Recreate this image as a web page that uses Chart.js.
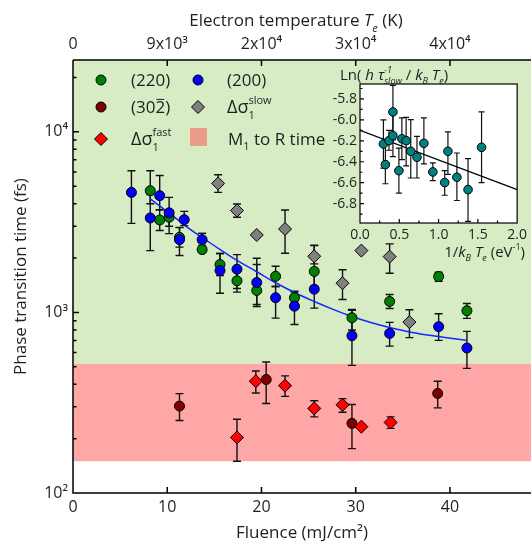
<!DOCTYPE html>
<html>
<head>
<meta charset="utf-8">
<script src="https://cdn.jsdelivr.net/npm/chart.js@4.4.0/dist/chart.umd.min.js"></script>
<style>
  body { margin: 0; background: #fff; }
  #wrap { position: relative; width: 531px; height: 544px; overflow: hidden; }
  #main { position: absolute; left: 0; top: 0; }
  #inset { position: absolute; left: 300px; top: 62px; }
</style>
</head>
<body>
<div id="wrap">
  <canvas id="main" width="531" height="544"></canvas>
  <canvas id="inset" width="231" height="205"></canvas>
</div>
<script>
// ---- data ----
const fluence200 = [6.2, 8.2, 9.2, 10.2, 11.8, 11.3, 13.7, 15.6, 17.4, 19.5, 21.5, 23.5, 25.6, 29.6, 33.6, 38.8, 41.8];
const time200 = [4620, 3335, 4430, 3560, 3265, 2530, 2530, 1706, 1734, 1465, 1206, 1083, 1345, 743, 765, 834, 635];
const lo200 = [3114, 2200, 3700, 3000, 3025, 2065, 2350, 1278, 1357, 1107, 930, 858, 1056, 509, 651, 700, 490];
const hi200 = [6087, 4500, 5736, 4335, 3628, 2958, 2742, 2119, 2090, 1843, 1392, 1295, 1750, 1026, 881, 984, 785];

const fluence220 = [8.2, 9.2, 10.2, 11.3, 13.7, 15.6, 17.4, 19.5, 21.5, 23.5, 25.6, 29.6, 33.6, 38.8, 41.8];
const time220 = [4720, 3250, 3365, 2605, 2228, 1843, 1497, 1323, 1586, 1206, 1686, 935, 1150, 1581, 1022];
const lo220 = [4000, 2840, 2730, 2300, 2153, 1600, 1295, 1079, 1392, 1140, 1400, 800, 1052, 1489, 927];
const hi220 = [6090, 3704, 3700, 2950, 2742, 2119, 1700, 1995, 1802, 1311, 2354, 1039, 1257, 1670, 1121];

const fluence302 = [11.3, 20.5, 29.6, 38.7];
const time302 = [303, 425, 243, 356];
const lo302 = [252, 313, 176, 296];
const hi302 = [355, 531, 309, 416];

const fluenceSlow = [15.4, 17.4, 19.5, 22.5, 25.6, 28.6, 30.6, 33.6, 35.7];
const timeSlow = [5180, 3665, 2685, 2898, 2046, 1452, 2200, 2037, 884];
const loSlow = [4623, 3364, 2685, 2127, 1858, 1180, 2200, 1648, 725];
const hiSlow = [5786, 3987, 2685, 3692, 2343, 1722, 2200, 2397, 1035];

const fluenceFast = [17.4, 19.4, 22.5, 25.6, 28.6, 30.6, 33.7];
const timeFast = [203, 416, 393, 294, 308, 233, 246];
const loFast = [150, 358, 343, 264, 280, 233, 228];
const hiFast = [256, 474, 445, 324, 333, 233, 264];

// blue fit curve
const fitFluence = [8.2, 10.2, 12.0, 13.7, 15.5, 17.4, 19.5, 21.5, 23.5, 25.6, 27.6, 29.6, 31.6, 33.6, 36.0, 38.8, 41.8];
const fitTime = [4250, 3550, 3000, 2600, 2250, 1940, 1680, 1460, 1290, 1150, 1040, 950, 880, 825, 775, 735, 700];

// M1 to R time band (pink) and the green region above it
const bandLow = 150;
const bandHigh = 520;

const xTicks = [0, 10, 20, 30, 40];
const topTickLabels = ['0', '9x10³', '2x10⁴', '3x10⁴', '4x10⁴'];
const yTicks = [100, 1000, 10000];
const yTickLabels = ['10²', '10³', '10⁴'];

// inset
const invKT = [0.298, 0.323, 0.369, 0.419, 0.419, 0.495, 0.533, 0.587, 0.646, 0.725, 0.813, 0.927, 1.078, 1.119, 1.233, 1.375, 1.547];
const lnRate = [-6.23, -6.427, -6.198, -5.924, -6.15, -6.485, -6.18, -6.198, -6.30, -6.357, -6.224, -6.497, -6.599, -6.30, -6.548, -6.666, -6.262];
const lnLo = [-6.46, -6.61, -6.29, -6.19, -6.35, -6.70, -6.38, -6.44, -6.555, -6.555, -6.42, -6.58, -6.72, -6.52, -6.77, -6.97, -6.60];
const lnHi = [-6.00, -6.19, -6.10, -5.67, -5.93, -6.27, -5.98, -5.975, -5.997, -6.157, -5.98, -6.41, -6.485, -6.115, -6.316, -6.37, -5.924];
const invKTFit = [0, 2.0];
const lnFit = [-6.10, -6.666];
const insetXTicks = [0, 0.5, 1.0, 1.5, 2.0];
const insetYTicks = [-6.8, -6.6, -6.4, -6.2, -6.0, -5.8];

const FAM = "'Open Sans', 'DejaVu Sans', sans-serif";
const TXT = '#1f1f1f';

function pts(xs, ys) { return xs.map((x, i) => ({ x: x, y: ys[i] })); }

// draw a line of mixed text: normal / italic / sub / sup pieces
function drawRich(ctx, x, y, segs, align) {
  const fontOf = s => (s.it ? 'italic ' : '') + s.sz + 'px ' + FAM;
  let total = 0, hold = 0;
  segs.forEach(s => {
    ctx.font = fontOf(s);
    const w = ctx.measureText(s.t).width;
    if (s.stack) { hold = Math.max(hold, w); } else { total += Math.max(w, hold); hold = 0; }
  });
  let cx = x;
  if (align === 'center') cx = x - total / 2;
  if (align === 'right') cx = x - total;
  ctx.save();
  ctx.fillStyle = TXT;
  ctx.textAlign = 'left';
  ctx.textBaseline = 'alphabetic';
  hold = 0;
  segs.forEach(s => {
    ctx.font = fontOf(s);
    const w = ctx.measureText(s.t).width;
    ctx.fillText(s.t, cx, y + (s.dy || 0));
    if (s.over) {
      ctx.strokeStyle = TXT; ctx.lineWidth = 1;
      ctx.beginPath();
      ctx.moveTo(cx + 1, y - s.sz * 0.8); ctx.lineTo(cx + w - 1, y - s.sz * 0.8);
      ctx.stroke();
    }
    if (s.stack) { hold = Math.max(hold, w); } else { cx += Math.max(w, hold); hold = 0; }
  });
  ctx.restore();
}

function marker(ctx, kind, color, x, y) {
  ctx.save();
  ctx.fillStyle = color; ctx.strokeStyle = '#000'; ctx.lineWidth = 1;
  ctx.beginPath();
  if (kind === 'circle') {
    ctx.arc(x, y, 5, 0, Math.PI * 2);
  } else {
    const r = 6.5;
    ctx.moveTo(x, y - r); ctx.lineTo(x + r, y); ctx.lineTo(x, y + r); ctx.lineTo(x - r, y); ctx.closePath();
  }
  ctx.fill(); ctx.stroke();
  ctx.restore();
}

function drawErrorBars(chart, cap, lw) {
  const ctx = chart.ctx;
  const xs = chart.scales.x, ys = chart.scales.y;
  ctx.save();
  ctx.strokeStyle = '#111';
  ctx.lineWidth = lw;
  chart.data.datasets.forEach(ds => {
    if (!ds.errLo) return;
    ds.data.forEach((p, i) => {
      if (ds.errLo[i] === ds.errHi[i]) return;
      const px = xs.getPixelForValue(p.x);
      const y1 = ys.getPixelForValue(ds.errHi[i]);
      const y2 = ys.getPixelForValue(ds.errLo[i]);
      ctx.beginPath();
      ctx.moveTo(px, y1); ctx.lineTo(px, y2);
      ctx.moveTo(px - cap, y1); ctx.lineTo(px + cap, y1);
      ctx.moveTo(px - cap, y2); ctx.lineTo(px + cap, y2);
      ctx.stroke();
    });
  });
  ctx.restore();
}

const mainDecor = {
  id: 'mainDecor',
  beforeDatasetsDraw(chart) {
    const ctx = chart.ctx, a = chart.chartArea;
    const ys = chart.scales.y;
    const yHi = ys.getPixelForValue(bandHigh);
    const yLo = ys.getPixelForValue(bandLow);
    ctx.save();
    ctx.fillStyle = 'rgb(215,236,196)';
    ctx.fillRect(a.left, a.top, a.right - a.left, yHi - a.top);
    ctx.fillStyle = 'rgb(255,166,166)';
    ctx.fillRect(a.left, yHi, a.right - a.left, yLo - yHi);
    ctx.restore();
    drawErrorBars(chart, 4, 1.4);
  },
  afterDraw(chart) {
    const ctx = chart.ctx, a = chart.chartArea;
    const xs = chart.scales.x, ys = chart.scales.y;
    ctx.save();
    ctx.strokeStyle = '#000';
    ctx.lineWidth = 1.5;
    ctx.beginPath();
    ctx.moveTo(a.left, a.top); ctx.lineTo(a.left, a.bottom); ctx.lineTo(a.right + 2, a.bottom);
    ctx.moveTo(a.left, a.top); ctx.lineTo(a.right + 2, a.top);
    // x ticks, inward top and bottom
    xTicks.slice(1).forEach(v => {
      const px = xs.getPixelForValue(v);
      ctx.moveTo(px, a.bottom); ctx.lineTo(px, a.bottom - 6);
      ctx.moveTo(px, a.top); ctx.lineTo(px, a.top + 6);
    });
    // y ticks, major and minor
    for (let d = 100; d <= 10000; d *= 10) {
      for (let m = 1; m <= 9; m++) {
        const v = d * m;
        if (v > ys.max) break;
        const py = ys.getPixelForValue(v);
        ctx.moveTo(a.left, py); ctx.lineTo(a.left + (m === 1 ? 6 : 3.5), py);
      }
    }
    ctx.stroke();
    ctx.restore();

    // top axis title
    drawRich(ctx, (a.left + a.right) / 2 - 6, 26, [
      { t: 'Electron temperature ', sz: 17 },
      { t: 'T', sz: 17, it: true },
      { t: 'e', sz: 11, it: true, dy: 6 },
      { t: ' (K)', sz: 17 }
    ], 'center');

    // legend
    marker(ctx, 'circle', 'rgb(0,128,0)', 101, 80);
    drawRich(ctx, 131, 86, [{ t: '(220)', sz: 17 }], 'left');
    marker(ctx, 'circle', 'rgb(0,0,255)', 198, 80);
    drawRich(ctx, 227, 86, [{ t: '(200)', sz: 17 }], 'left');
    marker(ctx, 'circle', 'rgb(128,0,0)', 101, 107);
    drawRich(ctx, 131, 113, [{ t: '(30', sz: 17 }, { t: '2', sz: 17, over: true }, { t: ')', sz: 17 }], 'left');
    marker(ctx, 'diamond', 'rgb(128,128,128)', 198, 107);
    drawRich(ctx, 227, 113, [
      { t: 'Δσ', sz: 18 }, { t: 'slow', sz: 11, dy: -9, stack: true }, { t: '1', sz: 11, dy: 6 }
    ], 'left');
    marker(ctx, 'diamond', 'rgb(255,0,0)', 101, 139);
    drawRich(ctx, 131, 145, [
      { t: 'Δσ', sz: 18 }, { t: 'fast', sz: 11, dy: -9, stack: true }, { t: '1', sz: 11, dy: 6 }
    ], 'left');
    ctx.save();
    ctx.fillStyle = 'rgb(234,156,134)';
    ctx.fillRect(190, 128, 17, 18);
    ctx.restore();
    drawRich(ctx, 228, 145, [
      { t: 'M', sz: 17 }, { t: '1', sz: 11, dy: 5 }, { t: ' to R time', sz: 17 }
    ], 'left');
  }
};

const tickFont = { family: FAM, size: 16 };

new Chart(document.getElementById('main'), {
  type: 'scatter',
  data: {
    datasets: [
      {
        label: 'fit', type: 'line', data: pts(fitFluence, fitTime),
        borderColor: 'rgb(20,40,255)', borderWidth: 1.5, pointRadius: 0,
        tension: 0.4, fill: false, order: 10
      },
      {
        label: '(220)', data: pts(fluence220, time220), errLo: lo220, errHi: hi220,
        backgroundColor: 'rgb(0,128,0)', borderColor: '#000', borderWidth: 1,
        pointRadius: 5, order: 5
      },
      {
        label: '(200)', data: pts(fluence200, time200), errLo: lo200, errHi: hi200,
        backgroundColor: 'rgb(0,0,255)', borderColor: '#000', borderWidth: 1,
        pointRadius: 5, order: 4
      },
      {
        label: 'slow', data: pts(fluenceSlow, timeSlow), errLo: loSlow, errHi: hiSlow,
        backgroundColor: 'rgb(128,128,128)', borderColor: '#000', borderWidth: 1,
        pointStyle: 'rectRot', pointRadius: 6.5, order: 3
      },
      {
        label: '(30-2)', data: pts(fluence302, time302), errLo: lo302, errHi: hi302,
        backgroundColor: 'rgb(128,0,0)', borderColor: '#000', borderWidth: 1,
        pointRadius: 5, order: 2
      },
      {
        label: 'fast', data: pts(fluenceFast, timeFast), errLo: loFast, errHi: hiFast,
        backgroundColor: 'rgb(255,0,0)', borderColor: '#000', borderWidth: 1,
        pointStyle: 'rectRot', pointRadius: 6.5, order: 1
      }
    ]
  },
  options: {
    responsive: false,
    animation: false,
    layout: { padding: 0, autoPadding: false },
    plugins: { legend: { display: false }, tooltip: { enabled: false } },
    scales: {
      x: {
        type: 'linear', position: 'bottom', min: 0, max: 48.6,
        grid: { display: false, drawTicks: false }, border: { display: false },
        afterBuildTicks: s => { s.ticks = xTicks.map(v => ({ value: v })); },
        afterFit: s => { s.height = 51; },
        ticks: { font: tickFont, color: TXT, padding: 5 },
        title: { display: true, text: 'Fluence (mJ/cm²)', font: { family: FAM, size: 17 }, color: TXT, padding: { top: 0, bottom: 1 } }
      },
      xTop: {
        type: 'linear', position: 'top', min: 0, max: 48.6,
        grid: { display: false, drawTicks: false }, border: { display: false },
        afterBuildTicks: s => { s.ticks = xTicks.map(v => ({ value: v })); },
        afterFit: s => { s.height = 60; },
        ticks: { font: tickFont, color: TXT, padding: 6, callback: (v, i) => topTickLabels[i] }
      },
      y: {
        type: 'logarithmic', min: 100, max: 25000,
        grid: { display: false, drawTicks: false }, border: { display: false },
        afterBuildTicks: s => { s.ticks = yTicks.map(v => ({ value: v })); },
        afterFit: s => { s.width = 73; },
        ticks: { font: tickFont, color: TXT, padding: 5, callback: (v, i) => yTickLabels[i] },
        title: { display: true, text: 'Phase transition time (fs)', font: { family: FAM, size: 17 }, color: TXT, padding: { top: 11, bottom: 0 } }
      }
    }
  },
  plugins: [mainDecor]
});

// ---- inset ----
const insetDecor = {
  id: 'insetDecor',
  beforeDatasetsDraw(chart) {
    const ctx = chart.ctx, a = chart.chartArea;
    ctx.save();
    ctx.fillStyle = '#fff';
    ctx.fillRect(a.left, a.top, a.right - a.left, a.bottom - a.top);
    ctx.restore();
    drawErrorBars(chart, 3, 1.2);
  },
  afterDraw(chart) {
    const ctx = chart.ctx, a = chart.chartArea;
    const xs = chart.scales.x, ys = chart.scales.y;
    ctx.save();
    ctx.strokeStyle = '#000';
    ctx.lineWidth = 1.2;
    ctx.strokeRect(a.left, a.top, a.right - a.left, a.bottom - a.top);
    ctx.beginPath();
    for (let v = -6.9; v <= -5.7; v += 0.1) {
      const py = ys.getPixelForValue(v);
      const major = Math.abs(Math.round(v * 10)) % 2 === 0;
      ctx.moveTo(a.left, py); ctx.lineTo(a.left + (major ? 4 : 2.5), py);
    }
    for (let v = 0.25; v < 2.0; v += 0.25) {
      const px = xs.getPixelForValue(v);
      const major = Math.abs(v * 2 - Math.round(v * 2)) < 1e-6;
      ctx.moveTo(px, a.bottom); ctx.lineTo(px, a.bottom - (major ? 4 : 2.5));
    }
    ctx.stroke();
    ctx.restore();

    drawRich(ctx, 40, 18, [
      { t: 'Ln( ', sz: 15 }, { t: 'h', sz: 15, it: true }, { t: ' τ', sz: 15, it: true },
      { t: '-1', sz: 9, it: true, dy: -7, stack: true }, { t: 'slow', sz: 9, it: true, dy: 4 },
      { t: ' / ', sz: 15 }, { t: 'k', sz: 15, it: true }, { t: 'B', sz: 9, it: true, dy: 4 },
      { t: ' T', sz: 15, it: true }, { t: 'e', sz: 9, it: true, dy: 4 }, { t: ')', sz: 15 }
    ], 'left');

    drawRich(ctx, 225, 195, [
      { t: '1/', sz: 15 }, { t: 'k', sz: 15, it: true }, { t: 'B', sz: 9, it: true, dy: 4 },
      { t: ' T', sz: 15, it: true }, { t: 'e', sz: 9, it: true, dy: 4 },
      { t: ' (eV', sz: 15 }, { t: '-1', sz: 9, dy: -7 }, { t: ')', sz: 15 }
    ], 'right');
  }
};

const insetFont = { family: FAM, size: 14 };

new Chart(document.getElementById('inset'), {
  type: 'scatter',
  data: {
    datasets: [
      {
        label: 'fit', type: 'line', data: pts(invKTFit, lnFit),
        borderColor: '#000', borderWidth: 1.2, pointRadius: 0, fill: false, order: 2
      },
      {
        label: 'ln rate', data: pts(invKT, lnRate), errLo: lnLo, errHi: lnHi,
        backgroundColor: 'rgb(0,128,128)', borderColor: '#000', borderWidth: 1,
        pointRadius: 4.3, order: 1
      }
    ]
  },
  options: {
    responsive: false,
    animation: false,
    layout: { padding: { top: 22, right: 12, left: 0, bottom: 0 }, autoPadding: false },
    plugins: { legend: { display: false }, tooltip: { enabled: false } },
    scales: {
      x: {
        type: 'linear', min: 0, max: 2.0,
        grid: { display: false, drawTicks: false }, border: { display: false },
        afterBuildTicks: s => { s.ticks = insetXTicks.map(v => ({ value: v })); },
        afterFit: s => { s.height = 44; },
        ticks: { font: insetFont, color: TXT, padding: 4, callback: v => v.toFixed(1) }
      },
      y: {
        type: 'linear', min: -6.985, max: -5.657,
        grid: { display: false, drawTicks: false }, border: { display: false },
        afterBuildTicks: s => { s.ticks = insetYTicks.map(v => ({ value: v })); },
        afterFit: s => { s.width = 60; },
        ticks: { font: insetFont, color: TXT, padding: 3, callback: v => v.toFixed(1) }
      }
    }
  },
  plugins: [insetDecor]
});
</script>
</body>
</html>
